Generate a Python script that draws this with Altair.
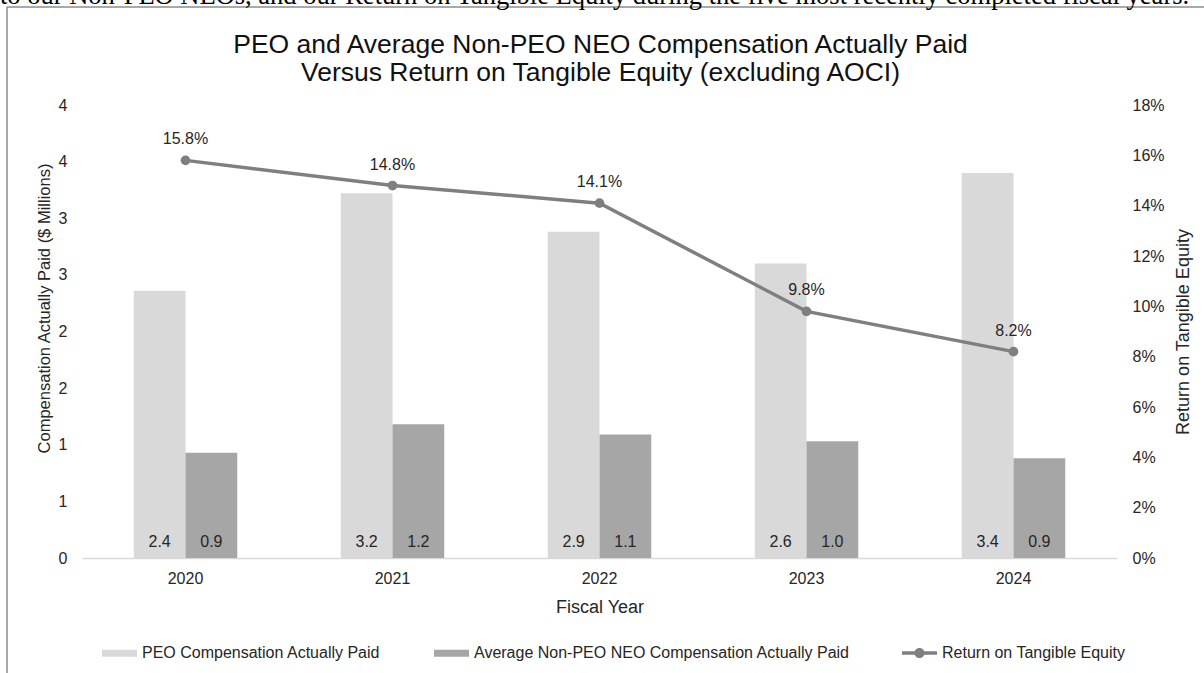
import altair as alt
import pandas as pd

# ---- data ----
years = ["2020", "2021", "2022", "2023", "2024"]
peo_cap = [2.36, 3.22, 2.88, 2.60, 3.40]          # PEO compensation actually paid ($M)
non_peo_cap = [0.93, 1.18, 1.09, 1.03, 0.88]      # Average non-PEO NEO CAP ($M)
rote_pct = [15.8, 14.8, 14.1, 9.8, 8.2]           # Return on tangible equity (%)
series = ["PEO Compensation Actually Paid",
          "Average Non-PEO NEO Compensation Actually Paid"]
line_name = "Return on Tangible Equity"
left_ticks = [0, 0.5, 1, 1.5, 2, 2.5, 3, 3.5, 4]
right_ticks = [0, 2, 4, 6, 8, 10, 12, 14, 16, 18]
title_lines = ["PEO and Average Non-PEO NEO Compensation Actually Paid",
               "Versus Return on Tangible Equity (excluding AOCI)"]
doc_sentence = ("to our Non-PEO NEOs, and our Return on Tangible Equity during "
                "the five most recently completed fiscal years.")

# ---- styling ----
series_colors = ["#d9d9d9", "#a6a6a6"]
line_color = "#7f7f7f"
FONT = "Liberation Sans"
TXT = "#262626"
W, H = 1035, 453
PAD = {"left": 82, "top": 105, "right": 87, "bottom": 115}

bars_df = pd.DataFrame({
    "year": years * 2,
    "series": [series[0]] * len(years) + [series[1]] * len(years),
    "value": peo_cap + non_peo_cap,
})
line_df = pd.DataFrame({"year": years, "rote": rote_pct, "name": [line_name] * len(years)})
one_row = pd.DataFrame({"k": [0]})

x_axis = alt.Axis(title="Fiscal Year", labelAngle=0, ticks=False, grid=False,
                  domainColor="#d9d9d9", domainWidth=1.5, labelPadding=12,
                  titlePadding=12, labelFontSize=16, titleFontSize=18,
                  labelColor=TXT, titleColor=TXT, labelFont=FONT, titleFont=FONT,
                  titleFontWeight="normal")
x_scale = alt.Scale(paddingInner=0.5, paddingOuter=0.25)

def X():
    return alt.X("year:N", sort=years, scale=x_scale, axis=x_axis)

left_axis = alt.Axis(title="Compensation Actually Paid ($ Millions)", values=left_ticks,
                     format=".0f", grid=False, domain=False, ticks=False,
                     labelPadding=15, titlePadding=6, labelFontSize=16, titleFontSize=16.5,
                     labelColor=TXT, titleColor=TXT, labelFont=FONT, titleFont=FONT,
                     titleFontWeight="normal", orient="left", titleY=203)
left_scale = alt.Scale(domain=[0, 4], nice=False, zero=True)

right_axis = alt.Axis(title="Return on Tangible Equity", values=right_ticks,
                      labelExpr="datum.value + '%'", grid=False, domain=False, ticks=False,
                      labelPadding=15, titlePadding=10, labelFontSize=16, titleFontSize=18,
                      labelColor=TXT, titleColor=TXT, labelFont=FONT, titleFont=FONT,
                      titleFontWeight="normal", orient="right", titleAngle=270,
                      titleBaseline="top")
right_scale = alt.Scale(domain=[0, 18], nice=False, zero=True)

rect_path = "M-1,-0.2L1,-0.2L1,0.2L-1,0.2Z"
line_sym_path = ("M-1,-0.1L1,-0.1L1,0.1L-1,0.1Z "
                 "M0.29,0A0.29,0.29 0 1,1 -0.29,0A0.29,0.29 0 1,1 0.29,0Z")

bars = alt.Chart(bars_df).mark_bar().encode(
    x=X(),
    xOffset=alt.XOffset("series:N", sort=series),
    y=alt.Y("value:Q", scale=left_scale, axis=left_axis),
    color=alt.Color("series:N", sort=series,
                    scale=alt.Scale(domain=series, range=series_colors),
                    legend=alt.Legend(orient="none", legendX=20, legendY=530.5,
                                      direction="horizontal", title=None,
                                      symbolType=rect_path, symbolSize=1225,
                                      symbolStrokeWidth=0, labelOffset=5,
                                      columnPadding=53, labelFontSize=16,
                                      labelFont=FONT, labelColor=TXT, padding=0,
                                      labelLimit=600)),
)

bar_text = alt.Chart(bars_df).transform_calculate(zero="0").mark_text(
    baseline="middle", dy=-16, fontSize=16, font=FONT, color=TXT
).encode(
    x=X(),
    xOffset=alt.XOffset("series:N", sort=series),
    y=alt.Y("zero:Q", scale=left_scale, axis=left_axis),
    text=alt.Text("value:Q", format=".1f"),
)

bar_layer = alt.layer(bars, bar_text)

line = alt.Chart(line_df).mark_line(color=line_color, strokeWidth=3.5).encode(
    x=X(),
    y=alt.Y("rote:Q", scale=right_scale, axis=right_axis),
)
points = alt.Chart(line_df).mark_circle(size=95, opacity=1).encode(
    x=X(),
    y=alt.Y("rote:Q", scale=right_scale, axis=right_axis),
    color=alt.Color("name:N", scale=alt.Scale(domain=[line_name], range=[line_color]),
                    legend=alt.Legend(orient="none", legendX=820, legendY=530.5,
                                      direction="horizontal", title=None,
                                      symbolType=line_sym_path, symbolSize=1225,
                                      symbolStrokeWidth=0, labelOffset=5,
                                      labelFontSize=16, labelFont=FONT,
                                      labelColor=TXT, padding=0, labelLimit=600)),
)
line_text = alt.Chart(line_df).transform_calculate(
    lbl="format(datum.rote, '.1f') + '%'"
).mark_text(baseline="middle", dy=-21, fontSize=16, font=FONT, color=TXT).encode(
    x=X(),
    y=alt.Y("rote:Q", scale=right_scale, axis=right_axis),
    text="lbl:N",
)
line_layer = alt.layer(line, points, line_text)

# chart title (two lines), document frame and the cut-off sentence above it
title = alt.Chart(one_row).mark_text(
    align="center", baseline="middle", fontSize=26.5, lineHeight=28, font=FONT, color="#111"
).encode(x=alt.value(W / 2 + 1), y=alt.value(45 - PAD["top"]), text=alt.value(title_lines))
frame_top = alt.Chart(one_row).mark_rule(color="#8c8c8c", strokeWidth=1.5).encode(
    x=alt.value(7 - PAD["left"]), x2=alt.value(1210 - PAD["left"]),
    y=alt.value(7 - PAD["top"]))
frame_left = alt.Chart(one_row).mark_rule(color="#8c8c8c", strokeWidth=1.5).encode(
    x=alt.value(7 - PAD["left"]), y=alt.value(7 - PAD["top"]),
    y2=alt.value(680 - PAD["top"]))
sentence = alt.Chart(one_row).mark_text(
    align="left", baseline="alphabetic", fontSize=26.5, font="Liberation Serif", color="#000"
).encode(x=alt.value(0 - PAD["left"]), y=alt.value(4 - PAD["top"]),
         text=alt.value(doc_sentence))

chart = alt.layer(bar_layer, line_layer, title, frame_top, frame_left, sentence).resolve_scale(
    y="independent", color="independent"
).properties(
    width=W, height=H,
    autosize=alt.AutoSizeParams(type="none"),
    padding=PAD,
    background="white",
).configure_view(stroke=None)

chart.save("out.html", embed_options={"renderer": "svg", "actions": False})
